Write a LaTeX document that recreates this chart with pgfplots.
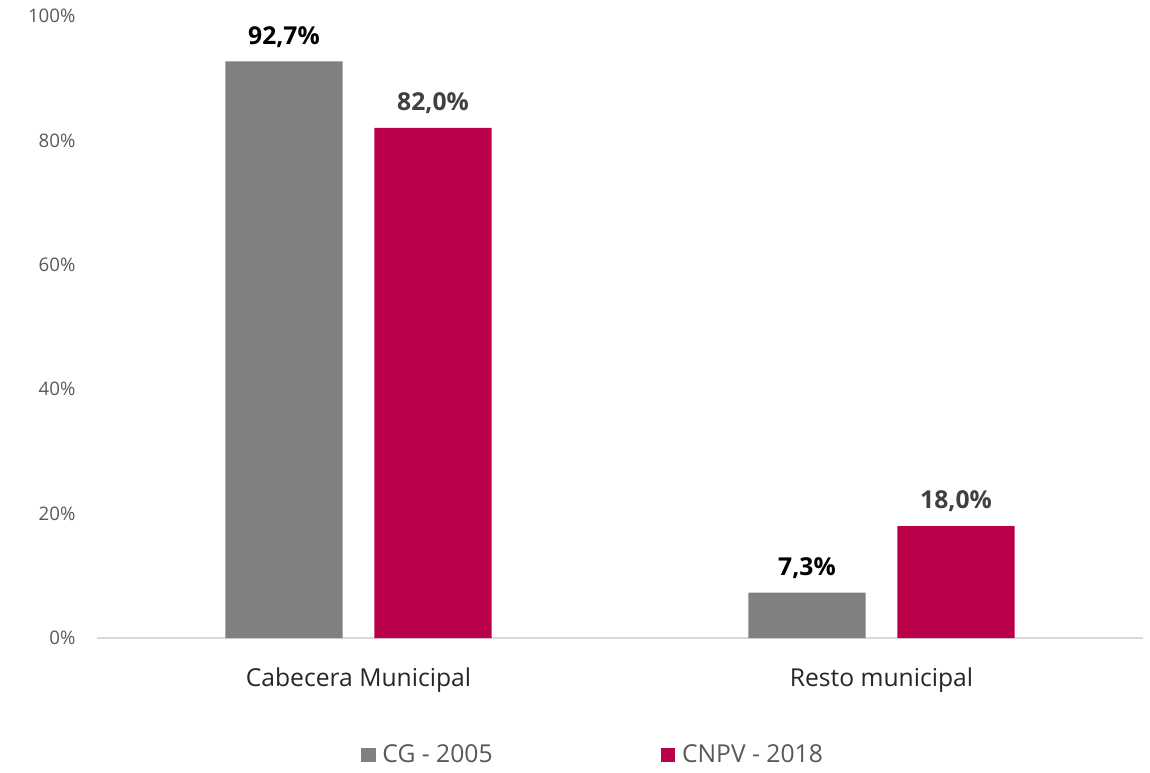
\documentclass[border=0pt]{standalone}
\usepackage{pgfplots}
\pgfplotsset{compat=1.18}
\usepackage{fontspec}
\setmainfont{Open Sans}
\definecolor{cgray}{HTML}{808080}
\definecolor{cred}{HTML}{BA004B}
\definecolor{ticktxt}{HTML}{595959}
\definecolor{axline}{HTML}{D9D9D9}
\begin{document}
\begin{tikzpicture}
\begin{axis}[
  scale only axis,
  width=784.5pt, height=466.5pt,
  ymin=0, ymax=100,
  xmin=-0.5, xmax=1.5,
  axis x line*=bottom,
  axis y line=none,
  x axis line style={draw=axline, line width=1pt, -},
  xtick={0,1},
  xticklabels={Cabecera Municipal, Resto municipal},
  xtick style={draw=none},
  xticklabel style={font=\fontsize{18.5}{20}\selectfont, color=black!85, yshift=-14.5pt},
  ybar, bar width=0.224,
  clip=false,
  legend style={draw=none, at={(0.4745,-87.75pt)}, anchor=center,
    legend columns=2, font=\fontsize{18.5}{20}\selectfont\color{ticktxt},
    /tikz/every even column/.append style={column sep=124pt}},
  legend image code/.code={\fill[#1] (0pt,-5.5pt) rectangle (11pt,5.5pt); \path (14pt,0pt);},
  nodes near coords={\pgfmathprintnumber[fixed,fixed zerofill,precision=1,use comma,assume math mode=true]{\pgfplotspointmeta}\%},
  nodes near coords style={font=\fontsize{18.5}{20}\selectfont\bfseries, anchor=south, yshift=7pt},
]
\addplot[fill=cgray, draw=none, bar shift=-0.1425, nodes near coords style={color=black}] coordinates {(0,92.7) (1,7.3)};
\addplot[fill=cred, draw=none, bar shift=0.1425, nodes near coords style={color=black!75}] coordinates {(0,82.0) (1,18.0)};
\legend{CG - 2005, CNPV - 2018}
\foreach \v in {0,20,...,100} {
  \edef\tmp{\noexpand\node[anchor=east, font=\noexpand\fontsize{14}{16}\noexpand\selectfont, text=ticktxt, inner sep=0pt] at (rel axis cs:0,\v/100) [xshift=-16pt] {\v\noexpand\%};}
  \tmp
}
\end{axis}
\path[draw=none] ([shift={(-72.75pt,-100.5pt)}]current axis.south west) rectangle ([shift={(5.25pt,12pt)}]current axis.north east);
\end{tikzpicture}
\end{document}
